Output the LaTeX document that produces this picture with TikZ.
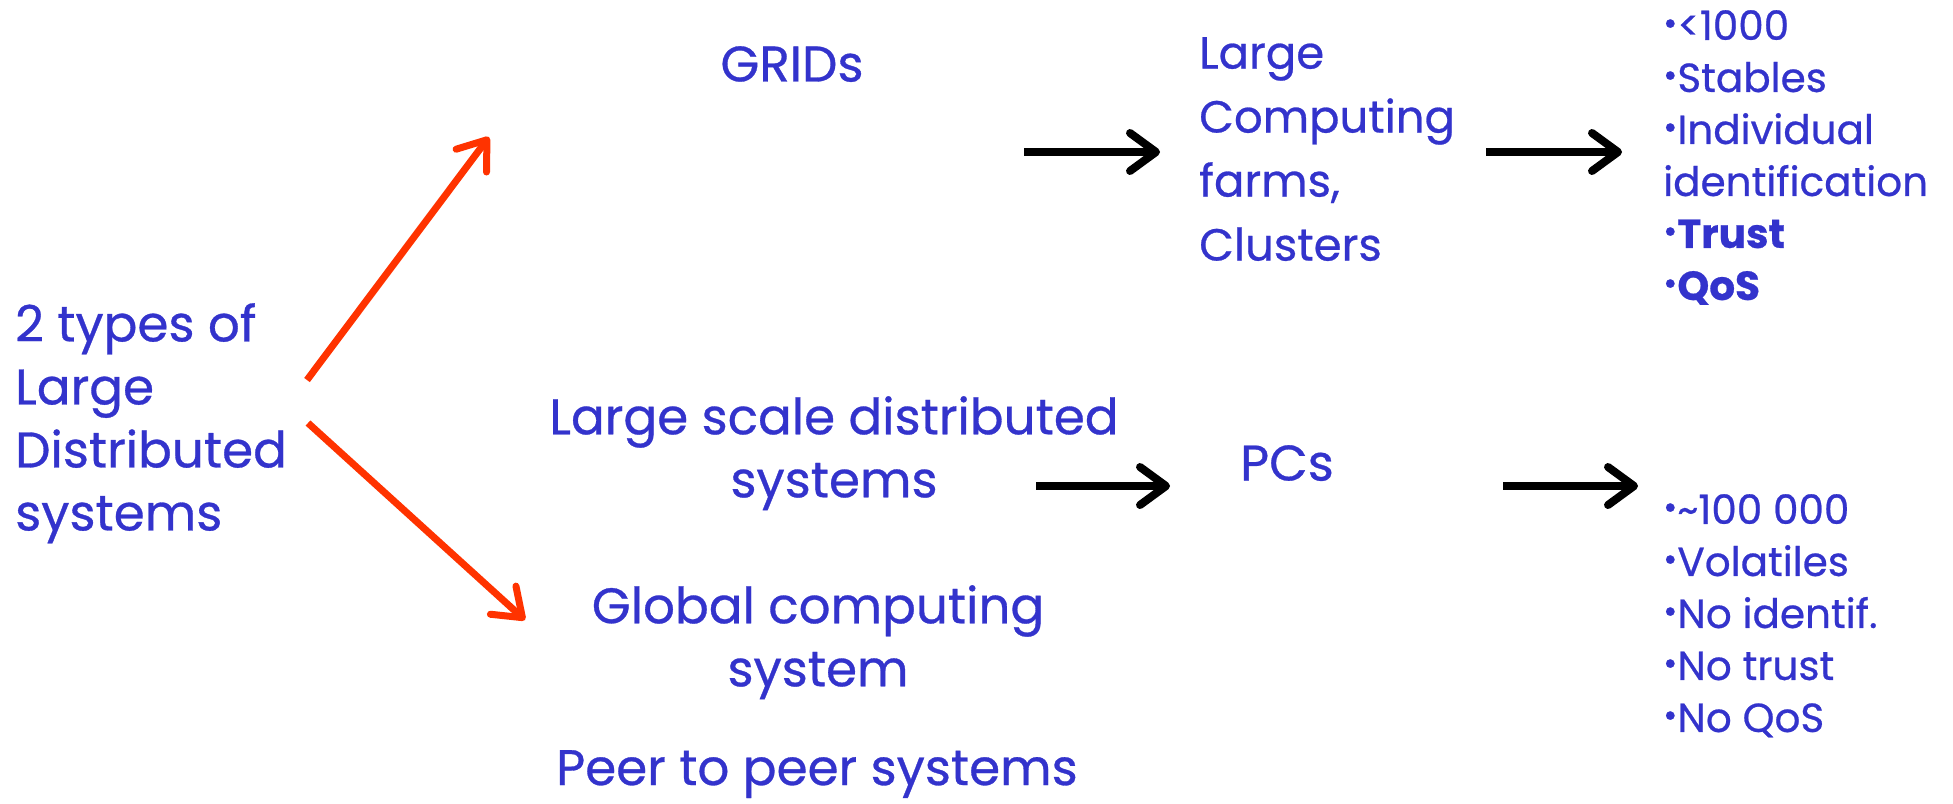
\documentclass[tikz,border=0pt]{standalone}
\usepackage{fontspec}
\usepackage{graphicx}
\setmainfont{Poppins}[FakeBold=0.6]
\usetikzlibrary{arrows.meta}
\definecolor{txtblue}{RGB}{51,51,204}
\definecolor{arrred}{RGB}{255,51,0}
\newcommand\itembul{\raisebox{0.22ex}{\scalebox{0.85}{•}}}
\begin{document}
\begin{tikzpicture}[x=1pt,y=-1pt,
  lbl/.style={inner sep=0, text=txtblue, align=center, font=\fontsize{50}{63}\selectfont},
  lst/.style={inner sep=0, text=txtblue, align=left, font=\fontsize{40.5}{52}\selectfont},
  flow/.style={line width=8pt, -{Straight Barb[length=26pt,width=38pt,round]}},
  branch/.style={line width=7pt, draw=arrred, -{Straight Barb[length=26pt,width=38pt,round]}}]
\useasboundingbox (0,0) rectangle (1953,803);
\fill[white] (0,0) rectangle (1953,803);

% labels
\node[lbl, align=left, anchor=north west] (types) at (15,303) {2 types of\\Large\\Distributed\\systems};
\node[lbl, anchor=north] (grids) at (792,46) {GRIDs};
\node[lbl, align=left, anchor=north west, font=\fontsize{45}{64}\selectfont] (farms) at (1199,37) {Large\\Computing\\farms,\\Clusters};
\node[lbl, anchor=north] (lsds) at (834,396) {Large scale distributed\\systems};
\node[lbl, anchor=north] (pcs) at (1287,445) {PCs};
\node[lbl, anchor=north] (gcs) at (818,585) {Global computing\\system};
\node[lbl, anchor=north] (p2p) at (817,750) {Peer to peer systems};

% property lists
\node[lst, anchor=north west] (gridprops) at (1663,10)
  {\itembul<1000\\\itembul Stables\\\itembul Individual\\identification\\\itembul\textbf{Trust}\\\itembul\textbf{QoS}};
\node[lst, anchor=north west] (pcprops) at (1663,494)
  {\itembul\textasciitilde100 000\\\itembul Volatiles\\\itembul No identif.\\\itembul No trust\\\itembul No QoS};

% arrow end points
\coordinate (up0) at (307,380);
\coordinate (up1) at (489,137);
\coordinate (dn0) at (308,423);
\coordinate (dn1) at (525,620);
\coordinate (a0) at (1024,152);
\coordinate (a1) at (1160,152);
\coordinate (b0) at (1486,152);
\coordinate (b1) at (1622,152);
\coordinate (c0) at (1036,486);
\coordinate (c1) at (1170,486);
\coordinate (d0) at (1503,486);
\coordinate (d1) at (1638,486);

\draw[branch] (up0) -- (up1);
\draw[branch] (dn0) -- (dn1);
\draw[flow] (a0) -- (a1);
\draw[flow] (b0) -- (b1);
\draw[flow] (c0) -- (c1);
\draw[flow] (d0) -- (d1);
\end{tikzpicture}
\end{document}
